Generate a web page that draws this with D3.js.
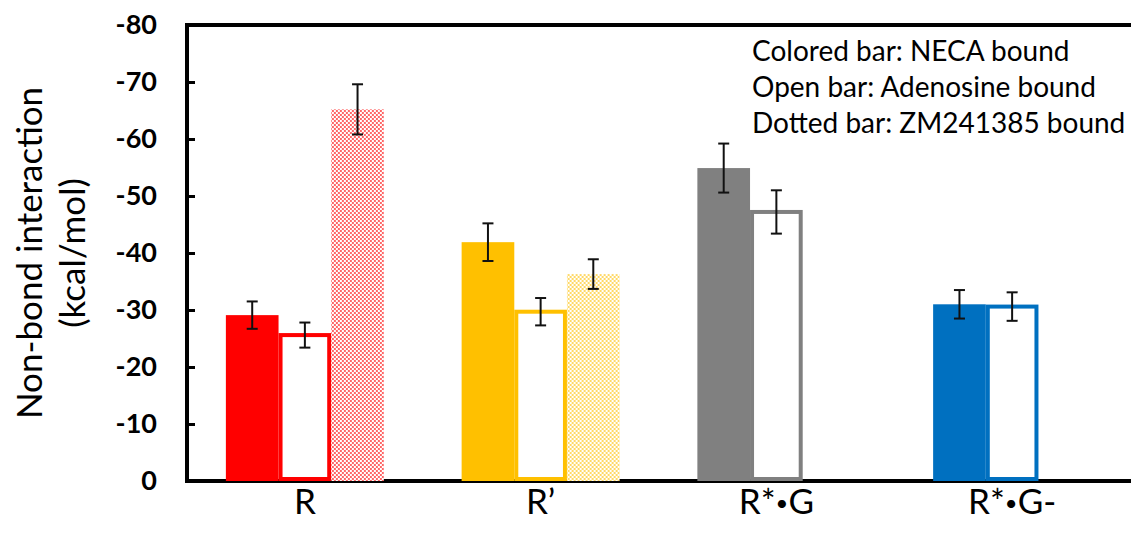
<!DOCTYPE html>
<html>
<head>
<meta charset="utf-8">
<script src="https://cdn.jsdelivr.net/npm/d3@7"></script>
<style>
  body { margin: 0; background: #fff; }
  svg { display: block; font-family: Lato, "Open Sans", sans-serif; }
</style>
</head>
<body>
<svg id="chart" width="1131" height="535"></svg>
<script>
// values (kcal/mol)
const categories = ['R', 'R\u2019', 'R*\u2022G', 'R*\u2022G-'];
const groupColors = ['#ff0000', '#ffc000', '#808080', '#0070c0'];
const necaValues = [-29.1, -41.9, -54.9, -31.0];
const necaErrors = [2.4, 3.3, 4.3, 2.5];
const adenosineValues = [-25.6, -29.7, -47.2, -30.6];
const adenosineErrors = [2.2, 2.4, 3.8, 2.5];
const zmValues = [-65.2, -36.3, null, null];
const zmErrors = [4.4, 2.6, null, null];
const seriesKeys = ['neca', 'adenosine', 'zm'];
const yTicks = [0, -10, -20, -30, -40, -50, -60, -70, -80];
const legendLines = ['Colored bar: NECA bound', 'Open bar: Adenosine bound', 'Dotted bar: ZM241385 bound'];

const svg = d3.select('#chart');
const plotLeft = 187, plotRight = 1130, plotTop = 25, plotBottom = 481;

const x0 = d3.scaleBand().domain(categories).range([plotLeft, plotRight]).padding(0);
const groupWidth = 158;
const x1 = d3.scaleBand().domain(seriesKeys).range([0, groupWidth]).padding(0);
const y = d3.scaleLinear().domain([0, -80]).range([plotBottom, plotTop]);

// checker patterns for the dotted bars
const defs = svg.append('defs');
groupColors.forEach((c, i) => {
    const p = defs.append('pattern')
        .attr('id', 'dots' + i)
        .attr('width', 4).attr('height', 4)
        .attr('patternUnits', 'userSpaceOnUse');
    p.append('rect').attr('width', 4).attr('height', 4).attr('fill', '#fff');
    p.append('rect').attr('width', 2).attr('height', 2).attr('fill', c).attr('fill-opacity', 0.6);
    p.append('rect').attr('x', 2).attr('y', 2).attr('width', 2).attr('height', 2).attr('fill', c).attr('fill-opacity', 0.6);
});

// frame
svg.append('rect')
    .attr('x', plotLeft).attr('y', plotTop)
    .attr('width', 1200).attr('height', plotBottom - plotTop)
    .attr('fill', 'none').attr('stroke', '#000').attr('stroke-width', 4);

// y axis
const yAxis = d3.axisLeft(y).tickValues(yTicks).tickFormat(d => String(d))
    .tickSize(-8).tickSizeOuter(0).tickPadding(30);
const gy = svg.append('g').attr('transform', `translate(${plotLeft},0)`).call(yAxis);
gy.select('.domain').remove();
gy.selectAll('.tick line').attr('stroke', '#000').attr('stroke-width', 3);
gy.selectAll('.tick text')
    .attr('font-size', 27).attr('font-weight', 'bold')
    .attr('font-family', 'Lato, sans-serif').attr('fill', '#000');

const rows = categories.map((c, i) => ({
    cat: c, i: i,
    bars: [
        {key: 'neca', v: necaValues[i], e: necaErrors[i]},
        {key: 'adenosine', v: adenosineValues[i], e: adenosineErrors[i]},
        {key: 'zm', v: zmValues[i], e: zmErrors[i]}
    ].filter(b => b.v !== null)
}));

const groups = svg.selectAll('.grp')
    .data(rows)
    .enter()
    .append('g')
    .attr('class', 'grp')
    .attr('transform', d => `translate(${x0(d.cat) + (x0.bandwidth() - groupWidth) / 2},0)`);

groups.each(function(d) {
    const g = d3.select(this);
    const col = groupColors[d.i];
    d.bars.forEach(b => {
        const bx = x1(b.key), bw = x1.bandwidth();
        if (b.key === 'neca') {
            g.append('rect').attr('x', bx).attr('y', y(b.v))
                .attr('width', bw).attr('height', y(0) - y(b.v)).attr('fill', col);
        } else if (b.key === 'adenosine') {
            g.append('rect').attr('x', bx + 2).attr('y', y(b.v))
                .attr('width', bw - 4).attr('height', y(0) - y(b.v) - 2)
                .attr('fill', '#fff').attr('stroke', col).attr('stroke-width', 4);
        } else {
            g.append('rect').attr('x', bx).attr('y', y(b.v))
                .attr('width', bw).attr('height', y(0) - y(b.v)).attr('fill', `url(#dots${d.i})`);
        }
        // error bar
        const cx = bx + bw / 2;
        const eg = g.append('g').attr('stroke', '#111').attr('stroke-width', 2);
        eg.append('line').attr('x1', cx).attr('x2', cx).attr('y1', y(b.v - b.e)).attr('y2', y(b.v + b.e));
        eg.append('line').attr('x1', cx - 5.5).attr('x2', cx + 5.5).attr('y1', y(b.v - b.e)).attr('y2', y(b.v - b.e));
        eg.append('line').attr('x1', cx - 5.5).attr('x2', cx + 5.5).attr('y1', y(b.v + b.e)).attr('y2', y(b.v + b.e));
    });
});

// category labels (bullet drawn smaller, as in the figure)
svg.selectAll('.xlab')
    .data(categories)
    .enter()
    .append('text')
    .attr('class', 'xlab')
    .attr('x', d => x0(d) + x0.bandwidth() / 2)
    .attr('y', 514)
    .attr('text-anchor', 'middle')
    .attr('font-size', 35)
    .each(function(d) {
        const t = d3.select(this);
        d.split(/(\u2022)/).filter(s => s).forEach(s => {
            const sp = t.append('tspan').text(s);
            if (s === '\u2022') sp.attr('font-size', 22).attr('dy', -3);
            else if (s !== d.split(/(\u2022)/)[0]) sp.attr('dy', 3);
        });
    });

// y title
const title = svg.append('text')
    .attr('transform', 'rotate(-90)')
    .attr('text-anchor', 'middle')
    .attr('font-size', 35);
title.append('tspan').attr('x', -(plotTop + plotBottom) / 2).attr('y', 42).text('Non-bond interaction');
title.append('tspan').attr('x', -(plotTop + plotBottom) / 2).attr('y', 85).text('(kcal/mol)');

// note in the top right
svg.selectAll('.note')
    .data(legendLines)
    .enter()
    .append('text')
    .attr('class', 'note')
    .attr('x', 752)
    .attr('y', (d, i) => 61 + i * 36)
    .attr('font-size', 28)
    .text(d => d);
</script>
</body>
</html>
